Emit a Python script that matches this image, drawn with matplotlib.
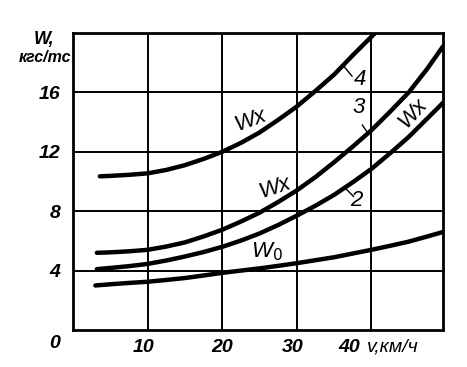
import matplotlib
matplotlib.use("Agg")
import matplotlib.pyplot as plt

plt.rcParams['font.family'] = ['Liberation Sans', 'DejaVu Sans']

# data
x_w0 = [3.0, 5, 7.5, 10, 12.5, 15, 17.5, 20, 22.5, 25, 27.5, 30, 32.5, 35, 37.5, 40, 42.5, 45, 47.5, 49.6]
y_w0 = [3.0, 3.08, 3.17, 3.25, 3.37, 3.5, 3.67, 3.85, 4.0, 4.15, 4.32, 4.5, 4.7, 4.9, 5.15, 5.4, 5.67, 5.95, 6.3, 6.6]

x_c2 = [3.2, 5, 7.5, 10, 12.5, 15, 17.5, 20, 22.5, 25, 27.5, 30, 32.5, 35, 37.5, 40, 42.5, 45, 47.5, 49.6]
y_c2 = [4.1, 4.18, 4.3, 4.45, 4.68, 4.95, 5.25, 5.6, 6.02, 6.5, 7.07, 7.7, 8.37, 9.1, 9.95, 10.85, 11.9, 13.0, 14.25, 15.3]

x_c3 = [3.2, 5, 7.5, 10, 12.5, 15, 17.5, 20, 22.5, 25, 27.5, 30, 32.5, 35, 37.5, 40, 42.5, 45, 47.5, 49.6]
y_c3 = [5.2, 5.23, 5.3, 5.4, 5.62, 5.9, 6.3, 6.75, 7.3, 7.9, 8.62, 9.4, 10.3, 11.3, 12.35, 13.45, 14.7, 16.0, 17.6, 19.1]

x_c4 = [3.6, 5, 7.5, 10, 12.5, 15, 17.5, 20, 22.5, 25, 27.5, 30, 32.5, 35, 37.5, 40.5]
y_c4 = [10.35, 10.38, 10.45, 10.55, 10.78, 11.1, 11.52, 12.0, 12.6, 13.3, 14.15, 15.05, 16.1, 17.2, 18.5, 20.0]

xticks = [10, 20, 30, 40]
xtick_labels = ['10', '20', '30', '40']
yticks = [4, 8, 12, 16]
ytick_labels = ['4', '8', '12', '16']

fig = plt.figure(figsize=(4.67, 3.67), dpi=100)
ax = fig.add_axes([0.1563, 0.1008, 0.7923, 0.8092])
ax.set_xlim(0, 49.6)
ax.set_ylim(0, 20)

for v in xticks:
    ax.axvline(v, color='black', lw=1.4, zorder=1)
for v in yticks:
    ax.axhline(v, color='black', lw=1.4, zorder=1)

for xs, ys in [(x_w0, y_w0), (x_c2, y_c2), (x_c3, y_c3), (x_c4, y_c4)]:
    ax.plot(xs, ys, color='black', lw=3.2, solid_capstyle='round',
            solid_joinstyle='round', zorder=3)

for s in ax.spines.values():
    s.set_linewidth(2.0)

tfont = dict(fontsize=14, fontstyle='italic', fontweight='bold')
ax.set_xticks(xticks)
ax.set_yticks(yticks)
ax.set_xticklabels([])
ax.set_yticklabels(ytick_labels, **tfont)
ax.tick_params(length=0, pad=9)

# x tick labels (the 40 is shifted left to make room for the unit)
xoff = {10: -0.6, 20: 0.0, 30: -0.5, 40: -3.0}
for t, s in zip(xticks, xtick_labels):
    ax.text(t + xoff[t], -0.6, s, ha='center', va='top', **tfont)

ax.text(-0.05, -0.045, '0', transform=ax.transAxes, ha='center', va='center', **tfont)
ax.text(39.4, -0.6, 'v,км/ч', ha='left', va='top', fontsize=14, fontstyle='italic')
ax.text(-0.078, 0.978, 'W,', transform=ax.transAxes, ha='center', va='center', fontsize=13,
        fontstyle='italic', fontweight='bold')
ax.text(-0.077, 0.918, 'кгс/тс', transform=ax.transAxes, ha='center', va='center', fontsize=11.5,
        fontstyle='italic', fontweight='bold')

lab = dict(fontsize=16, fontstyle='italic', ha='center', va='center', zorder=4)
ax.text(23.8, 14.1, 'Wx', rotation=20, **lab)
ax.text(27.0, 9.6, 'Wx', rotation=18, **lab)
ax.text(45.6, 14.6, 'Wx', rotation=48, **lab)
ax.text(26.0, 5.3, r'W$_0$', **lab)
ax.text(38.5, 16.9, '4', **lab)
ax.text(38.3, 15.0, '3', **lab)
ax.text(38.0, 8.7, '2', **lab)

ll = dict(color='black', lw=1.0, zorder=4)
ax.plot([36.4, 37.4], [17.7, 17.1], **ll)
ax.plot([38.8, 39.4], [13.8, 13.35], **ll)
ax.plot([36.4, 37.6], [9.6, 9.0], **ll)

fig.savefig('out.png', dpi=100)
